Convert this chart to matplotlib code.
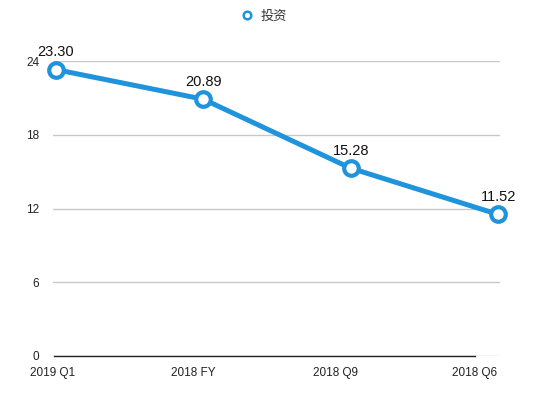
import matplotlib.pyplot as plt
from matplotlib.lines import Line2D

categories = ["2019 Q1", "2018 FY", "2018 Q9", "2018 Q6"]
values = [23.30, 20.89, 15.28, 11.52]
series_name = "投资"
y_ticks = [0, 6, 12, 18, 24]

BLUE = "#1f93dc"

plt.rcParams['font.family'] = ['Liberation Sans', 'Noto Sans CJK SC', 'DejaVu Sans']

fig = plt.figure(figsize=(5.5, 3.95), dpi=100)
W, H = 550, 395
# axes box in pixels: left 53, right 500, top 61, bottom 356
ax = fig.add_axes([53 / W, 1 - 356 / H, (500 - 53) / W, (356 - 61) / H])

x = list(range(len(categories)))
ax.plot(x, values, color=BLUE, linewidth=3.6, marker='o', markersize=10.5,
        markerfacecolor='white', markeredgecolor=BLUE, markeredgewidth=3,
        clip_on=False, zorder=3)

for xi, v in zip(x, values):
    ax.annotate(f"{v:.2f}", (xi, v), xytext=(0, 12.5), textcoords='offset points',
                ha='center', va='center', fontsize=10.5, color='#111111')

ax.set_xlim(-0.0135, 3.013)
ax.set_ylim(0, 24)
ax.set_yticks(y_ticks)
ax.set_yticklabels([str(t) for t in y_ticks], fontsize=8.5, color='#222222')
ax.tick_params(axis='y', length=0, pad=10)

# category labels sit slightly left of the points in the original
ax.set_xticks([-0.02, 0.93, 1.9, 2.84])
ax.set_xticklabels(categories, fontsize=8.5, color='#222222')
ax.tick_params(axis='x', length=0, pad=8)

ax.grid(axis='y', color='#c8c8c8', linewidth=1)
ax.set_axisbelow(True)
for side in ['top', 'right', 'left']:
    ax.spines[side].set_visible(False)
ax.spines['bottom'].set_color('#222222')
ax.spines['bottom'].set_linewidth(1)
ax.spines['bottom'].set_bounds(-0.0135, 2.84)

handle = Line2D([], [], linestyle='none', marker='o', markersize=5.5,
                markerfacecolor='white', markeredgecolor=BLUE, markeredgewidth=1.8)
fig.legend([handle], [series_name], loc='center', bbox_to_anchor=(264 / W, 1 - 17 / H),
           frameon=False, fontsize=9.5, handletextpad=0.5, handlelength=1.0,
           labelcolor='#333333')

fig.savefig('out.png', dpi=100, facecolor='white')
